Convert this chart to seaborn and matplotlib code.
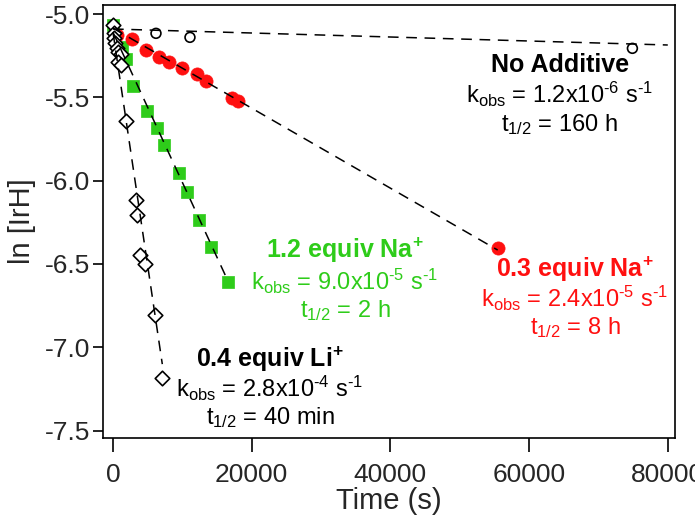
import numpy as np
import pandas as pd
import matplotlib
matplotlib.use("Agg")
import matplotlib.pyplot as plt
import seaborn as sns

# ---- measured data: time (s) and ln[IrH] ----
t_none = [6200, 11100, 74900]
y_none = [-5.116, -5.140, -5.206]

t_na03 = [530, 2700, 4720, 6680, 8120, 9900, 12070, 13370, 17120, 18070, 55470]
y_na03 = [-5.126, -5.152, -5.216, -5.256, -5.286, -5.326, -5.360, -5.402, -5.506, -5.522, -6.406]

t_na12 = [0, 1250, 1870, 2930, 4950, 6390, 7400, 9470, 10630, 12440, 14090, 16630]
y_na12 = [-5.066, -5.196, -5.272, -5.432, -5.582, -5.682, -5.788, -5.956, -6.066, -6.236, -6.400, -6.610]

t_li04 = [0, 200, 190, 290, 530, 760, 1110, 760, 1110, 1830, 3320, 3500, 3890, 4610, 6060, 7110]
y_li04 = [-5.066, -5.114, -5.144, -5.174, -5.204, -5.228, -5.240, -5.290, -5.306,
          -5.640, -6.116, -6.206, -6.446, -6.500, -6.806, -7.185]

# first-order fits: ln[IrH] = b - k_obs * t
k_obs = {"none": 1.2e-6, "na03": 2.4e-5, "na12": 9.0e-5, "li04": 2.8e-4}
fit_b = {"none": -5.090, "na03": -5.085, "na12": -5.110, "li04": -5.110}
fit_end = {"none": 80000, "na03": 55470, "na12": 16630, "li04": 7110}

x_ticks = [0, 20000, 40000, 60000, 80000]
x_ticklabels = ["0", "20000", "40000", "60000", "80000"]
y_ticks = [-5.0, -5.5, -6.0, -6.5, -7.0, -7.5]
y_ticklabels = ["-5.0", "-5.5", "-6.0", "-6.5", "-7.0", "-7.5"]

RED = "#ff1010"
GREEN = "#2ecc1a"

sns.set_style("ticks")
plt.rcParams["font.family"] = ["Liberation Sans", "DejaVu Sans"]
plt.rcParams["mathtext.fontset"] = "custom"
plt.rcParams["mathtext.rm"] = "Liberation Sans"
plt.rcParams["mathtext.it"] = "Liberation Sans:italic"
plt.rcParams["mathtext.bf"] = "Liberation Sans:bold"
plt.rcParams["axes.unicode_minus"] = False

fig = plt.figure(figsize=(6.95, 5.19), dpi=100)
ax = fig.add_axes([0.1482, 0.1561, 0.8230, 0.8349])

# markers
sns.scatterplot(x=t_none, y=y_none, ax=ax, marker="o", s=50, facecolor="none",
                edgecolor="black", linewidth=1.2, zorder=3)
sns.scatterplot(x=t_li04, y=y_li04, ax=ax, marker="D", s=55, facecolor="white",
                edgecolor="black", linewidth=1.2, zorder=3)
sns.scatterplot(x=t_na12, y=y_na12, ax=ax, marker="s", s=72, color=GREEN,
                edgecolor=GREEN, linewidth=0.5, zorder=2)
sns.scatterplot(x=t_na03, y=y_na03, ax=ax, marker="o", s=90, color=RED,
                edgecolor=RED, linewidth=0.5, zorder=2)

# dashed fit lines on top of the markers
for key in ["none", "na03", "na12", "li04"]:
    tt = np.array([0.0, fit_end[key]])
    fit = pd.DataFrame({"t": tt, "y": fit_b[key] - k_obs[key] * tt})
    sns.lineplot(data=fit, x="t", y="y", ax=ax, color="black", linewidth=1.1,
                 dashes=False, linestyle=(0, (7, 5)), zorder=4, sort=False)

ax.set_xlim(-1442, 81040)
ax.set_ylim(-7.544, -4.944)
ax.set_xticks(x_ticks)
ax.set_xticklabels(x_ticklabels)
ax.set_yticks(y_ticks)
ax.set_yticklabels(y_ticklabels)
ax.tick_params(axis="both", direction="out", labelsize=19, width=1.2, color="black")
ax.tick_params(axis="x", length=10, pad=8)
ax.tick_params(axis="y", length=7.5, pad=2)
for sp in ax.spines.values():
    sp.set_visible(True)
    sp.set_linewidth(1.2)
    sp.set_color("black")

ax.set_xlabel("Time (s)", fontsize=21, labelpad=0)
ax.set_ylabel("ln [IrH]", fontsize=21, labelpad=6)


def pix_to_data(px, py):
    tx = (px - 113.0) / 0.006935
    vy = -5.0 - (py - 14.0) / 166.7
    return tx, vy


def label_block(px, baselines, lines, color):
    for i, (txt, py) in enumerate(zip(lines, baselines)):
        tx, vy = pix_to_data(px, py)
        ax.text(tx, vy, txt, ha="center", va="baseline", color=color,
                fontsize=18 if i == 0 else 17, fontweight="bold" if i == 0 else "normal",
                zorder=5)


label_block(560, [72, 103, 131],
            ["No Additive", r"k$_{\mathrm{obs}}$ = 1.2x10$^{\text{-6}}$ s$^{\text{-1}}$",
             r"t$_{\mathrm{1/2}}$ = 160 h"], "black")
label_block(345, [258, 290, 317],
            [r"1.2 equiv Na$^{\mathbf{+}}$", r"k$_{\mathrm{obs}}$ = 9.0x10$^{\text{-5}}$ s$^{\text{-1}}$",
             r"t$_{\mathrm{1/2}}$ = 2 h"], GREEN)
label_block(575, [277, 307, 334],
            [r"0.3 equiv Na$^{\mathbf{+}}$", r"k$_{\mathrm{obs}}$ = 2.4x10$^{\text{-5}}$ s$^{\text{-1}}$",
             r"t$_{\mathrm{1/2}}$ = 8 h"], RED)
label_block(270, [367, 397, 424],
            [r"0.4 equiv Li$^{\mathbf{+}}$", r"k$_{\mathrm{obs}}$ = 2.8x10$^{\text{-4}}$ s$^{\text{-1}}$",
             r"t$_{\mathrm{1/2}}$ = 40 min"], "black")

fig.savefig("out.png", dpi=100)
